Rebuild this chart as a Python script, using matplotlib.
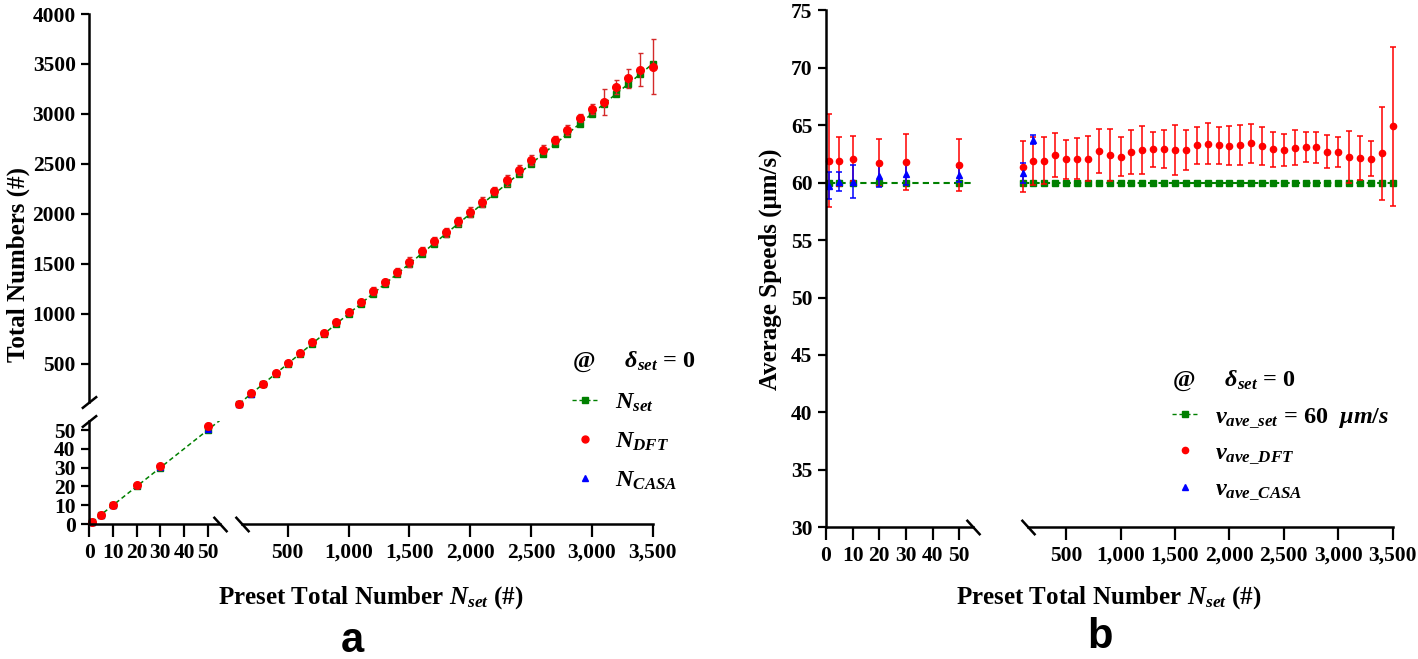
import matplotlib
matplotlib.use('Agg')
import matplotlib.pyplot as plt
from matplotlib.lines import Line2D
from matplotlib.ticker import FuncFormatter

plt.rcParams['font.family'] = ['Liberation Serif', 'DejaVu Serif']
plt.rcParams['font.weight'] = 'bold'
plt.rcParams['axes.labelweight'] = 'bold'
plt.rcParams['mathtext.fontset'] = 'custom'
plt.rcParams['mathtext.rm'] = 'Liberation Serif:bold'
plt.rcParams['mathtext.it'] = 'Liberation Serif:italic:bold'
plt.rcParams['mathtext.bf'] = 'Liberation Serif:bold'

# preset numbers, small segment and large segment
n_small = [1, 5, 10, 20, 30, 50]
n_large = [100, 200, 300, 400, 500, 600, 700, 800, 900, 1000, 1100, 1200,
           1300, 1400, 1500, 1600, 1700, 1800, 1900, 2000, 2100, 2200, 2300,
           2400, 2500, 2600, 2700, 2800, 2900, 3000, 3100, 3200, 3300, 3400, 3500]

# panel a: counted totals
dft_small = [1, 5, 10, 20.5, 31, 52]
dft_small_sd = [0.5, 0.5, 0.5, 0.8, 1, 1.5]
dft_large = [100, 204, 300, 404, 507, 607, 714, 810, 917, 1020, 1118, 1225,
             1318, 1421, 1521, 1631, 1728, 1815, 1925, 2018, 2118, 2226, 2336,
             2439, 2536, 2640, 2740, 2840, 2957, 3050, 3122, 3267, 3357, 3440, 3473]
dft_large_sd = [3, 5, 6, 8, 10, 12, 14, 15, 18, 20, 22, 38, 25, 42, 48, 38, 38,
                45, 45, 48, 52, 42, 55, 48, 50, 45, 40, 52, 42, 52, 128, 72, 95,
                165, 275]
casa_small = [1, 5, 10, 20.5, 30.5, 50.5]
casa_large_n = [100, 200]
casa_large = [100, 200]

# panel b: average speeds (um/s)
v_set = 60
v_dft_small = [61.9, 61.85, 62.1, 61.75, 61.8, 61.55]
v_dft_small_sd = [4.05, 2.1, 1.95, 2.05, 2.4, 2.25]
v_dft_large = [61.4, 61.9, 61.9, 62.4, 62.05, 62.1, 62.1, 62.75, 62.4, 62.25,
               62.7, 62.85, 62.9, 62.9, 62.85, 62.85, 63.25, 63.4, 63.25, 63.2,
               63.25, 63.45, 63.2, 62.9, 62.85, 63.05, 63.1, 63.1, 62.7, 62.7,
               62.25, 62.15, 62.1, 62.55, 64.9]
v_dft_large_sd = [2.2, 2.1, 2.05, 1.9, 1.7, 1.75, 1.95, 1.9, 2.25, 1.7, 1.9, 2.1,
                  1.5, 1.65, 2.2, 1.75, 1.6, 1.8, 1.6, 1.7, 1.75, 1.7, 1.65, 1.5,
                  1.4, 1.5, 1.3, 1.35, 1.45, 1.3, 2.25, 1.9, 1.55, 4.05, 6.9]
v_casa_small = [59.75, 60.1, 60.1, 60.6, 60.8, 60.7]
v_casa_small_sd = [1.2, 0.85, 1.4, 1.0, 1.0, 0.65]
v_casa_large_n = [100, 200]
v_casa_large = [60.85, 63.75]
v_casa_large_sd = [0.85, 0.4]

GREEN = '#008000'
RED = '#ff0000'
DARKRED = '#d42a2a'
BLUE = '#0000ff'
W, H = 1418, 659
LABEL_FS = 18
LEG_FS = 17.5
LEG_TITLE = '@     $\\delta_{set}$ = 0'

fig = plt.figure(figsize=(W / 100, H / 100), dpi=100)


def add_ax(x0, y0, x1, y1):
    ax = fig.add_axes([x0 / W, 1 - y1 / H, (x1 - x0) / W, (y1 - y0) / H])
    ax.patch.set_visible(False)
    for s in ax.spines.values():
        s.set_visible(False)
        s.set_linewidth(1.8)
    ax.tick_params(direction='out', width=1.6, labelsize=15.5, pad=4)
    ax.tick_params(axis='x', length=9.4)
    ax.tick_params(axis='y', length=5.8)
    ax.set_xticks([])
    ax.set_yticks([])
    return ax


def show(ax, which):
    for w in which:
        ax.spines[w].set_visible(True)


def breaks(ax, pts, s):
    ax.plot([p[0] for p in pts], [p[1] for p in pts], transform=ax.transAxes,
            marker=[(-1, -s), (1, s)], markersize=11, linestyle='none',
            color='k', mec='k', mew=1.8, clip_on=False)


def unclip(cont):
    for art in cont.get_children():
        art.set_clip_on(False)


comma = FuncFormatter(lambda v, p: '{:,.0f}'.format(v))

# ---------------- panel a ----------------
axLL = add_ax(89.3, 420.6, 219.6, 524)
axLU = add_ax(89.3, 14, 219.6, 401.7)
axRL = add_ax(241.7, 420.6, 652.5, 524)
axRU = add_ax(241.7, 14, 652.5, 401.7)
for ax in (axLL, axRL):
    ax.set_ylim(0, 55)
for ax in (axLU, axRU):
    ax.set_ylim(120, 4000)
for ax in (axLL, axLU):
    ax.set_xlim(0, 55)
for ax in (axRL, axRU):
    ax.set_xlim(121, 3500)

show(axLL, ['left', 'bottom'])
axLL.set_xticks([0, 10, 20, 30, 40, 50])
axLL.set_yticks([0, 10, 20, 30, 40, 50])
show(axLU, ['left'])
axLU.set_yticks([500, 1000, 1500, 2000, 2500, 3000, 3500, 4000])
show(axRL, ['bottom'])
axRL.set_xticks([500, 1000, 1500, 2000, 2500, 3000, 3500])
axRL.xaxis.set_major_formatter(comma)

breaks(axLL, [(1, 0)], -1.1)
breaks(axRL, [(0, 0)], -1.1)
breaks(axLL, [(0, 1)], 0.8)
breaks(axLU, [(0, 0)], 0.8)

axLL.plot(n_small + n_large[:1], n_small + n_large[:1], ls=(0, (3, 2)), color=GREEN, lw=1.1)
axLL.plot(n_small, n_small, 's', color=GREEN, ms=5, clip_on=False)
unclip(axLL.errorbar(n_small, dft_small, yerr=dft_small_sd, fmt='o', color=RED,
                     ecolor=DARKRED, ms=5.5, capsize=1.8, elinewidth=1, capthick=1))
axLL.plot(n_small, casa_small, '^', color=BLUE, ms=5, clip_on=False)

axRU.plot(n_large, n_large, ls=(0, (3, 2)), marker='s', color=GREEN, lw=1.1, ms=5, clip_on=False)
unclip(axRU.errorbar(n_large, dft_large, yerr=dft_large_sd, fmt='o', color=RED,
                     ecolor=DARKRED, ms=5.5, capsize=1.8, elinewidth=1, capthick=1))
axRU.plot(casa_large_n, casa_large, '^', color=BLUE, ms=5, clip_on=False)

fig.text(18 / W, 1 - 265 / H, 'Total Numbers (#)', rotation=90, ha='center', va='center',
         fontsize=LABEL_FS)
fig.text(371 / W, 1 - 598 / H, 'Preset Total Number $N_{set}$ (#)', ha='center', va='center',
         fontsize=LABEL_FS)
fig.text(352 / W, 1 - 641 / H, 'a', ha='center', va='center', fontsize=30,
         family='Liberation Sans', weight='bold')

hl = [Line2D([], [], color=GREEN, ls=(0, (3, 2)), marker='s', ms=5, lw=1),
      Line2D([], [], ls='none', marker='o', color=RED, ms=5),
      Line2D([], [], ls='none', marker='^', color=BLUE, ms=5)]
fig.legend(hl, ['$N_{set}$', '$N_{DFT}$', '$N_{CASA}$'], loc='upper left',
           bbox_to_anchor=(572 / W, 1 - 350 / H), frameon=False,
           title=LEG_TITLE, alignment='left', fontsize=LEG_FS,
           title_fontsize=LEG_FS, handlelength=1.1, handletextpad=0.65,
           labelspacing=0.7, borderpad=0, borderaxespad=0)

# ---------------- panel b ----------------
axA = add_ax(826, 10.4, 972.7, 527.3)
axB = add_ax(1028, 10.4, 1392.7, 527.3)
for ax in (axA, axB):
    ax.set_ylim(30, 75)
axA.set_xlim(0, 55)
axB.set_xlim(150, 3500)
show(axA, ['left', 'bottom'])
axA.set_xticks([0, 10, 20, 30, 40, 50])
axA.set_yticks([30, 35, 40, 45, 50, 55, 60, 65, 70, 75])
show(axB, ['bottom'])
axB.set_xticks([500, 1000, 1500, 2000, 2500, 3000, 3500])
axB.xaxis.set_major_formatter(comma)
breaks(axA, [(1, 0)], -1.1)
breaks(axB, [(0, 0)], -1.1)

axA.plot(n_small + n_large[:1], [v_set] * 7, ls=(0, (3, 2)), color=GREEN, lw=1.5)
axA.plot(n_small, [v_set] * len(n_small), 's', color=GREEN, ms=4.5, clip_on=False)
unclip(axA.errorbar(n_small, v_dft_small, yerr=v_dft_small_sd, fmt='o', color=RED,
                    ms=4.5, capsize=2.2, elinewidth=1.1, capthick=1.1))
unclip(axA.errorbar(n_small, v_casa_small, yerr=v_casa_small_sd, fmt='^', color=BLUE,
                    ms=4.5, capsize=2.2, elinewidth=1.1, capthick=1.1))

axB.plot(n_large, [v_set] * len(n_large), ls=(0, (3, 2)), marker='s', color=GREEN,
         lw=1.5, ms=4.5, clip_on=False)
unclip(axB.errorbar(n_large, v_dft_large, yerr=v_dft_large_sd, fmt='o', color=RED,
                    ms=4.5, capsize=2.2, elinewidth=1.1, capthick=1.1))
unclip(axB.errorbar(v_casa_large_n, v_casa_large, yerr=v_casa_large_sd, fmt='^', color=BLUE,
                    ms=4.5, capsize=2.2, elinewidth=1.1, capthick=1.1))

axA.set_ylabel('Average Speeds (μm/s)', fontsize=LABEL_FS, labelpad=6)
fig.text(1109 / W, 1 - 598 / H, 'Preset Total Number $N_{set}$ (#)', ha='center', va='center',
         fontsize=LABEL_FS)
fig.text(1100 / W, 1 - 637 / H, 'b', ha='center', va='center', fontsize=30,
         family='Liberation Sans', weight='bold')

hr = [Line2D([], [], color=GREEN, ls=(0, (3, 2)), marker='s', ms=4.5, lw=1),
      Line2D([], [], ls='none', marker='o', color=RED, ms=4.5),
      Line2D([], [], ls='none', marker='^', color=BLUE, ms=4.5)]
fig.legend(hr, ['$v_{ave\\_set}$ = 60  $\\mu m/s$', '$v_{ave\\_DFT}$', '$v_{ave\\_CASA}$'],
           loc='upper left', bbox_to_anchor=(1172 / W, 1 - 369 / H), frameon=False,
           title=LEG_TITLE, alignment='left', fontsize=LEG_FS,
           title_fontsize=LEG_FS, handlelength=1.1, handletextpad=0.65,
           labelspacing=0.5, borderpad=0, borderaxespad=0)

fig.savefig('out.png', dpi=100)
